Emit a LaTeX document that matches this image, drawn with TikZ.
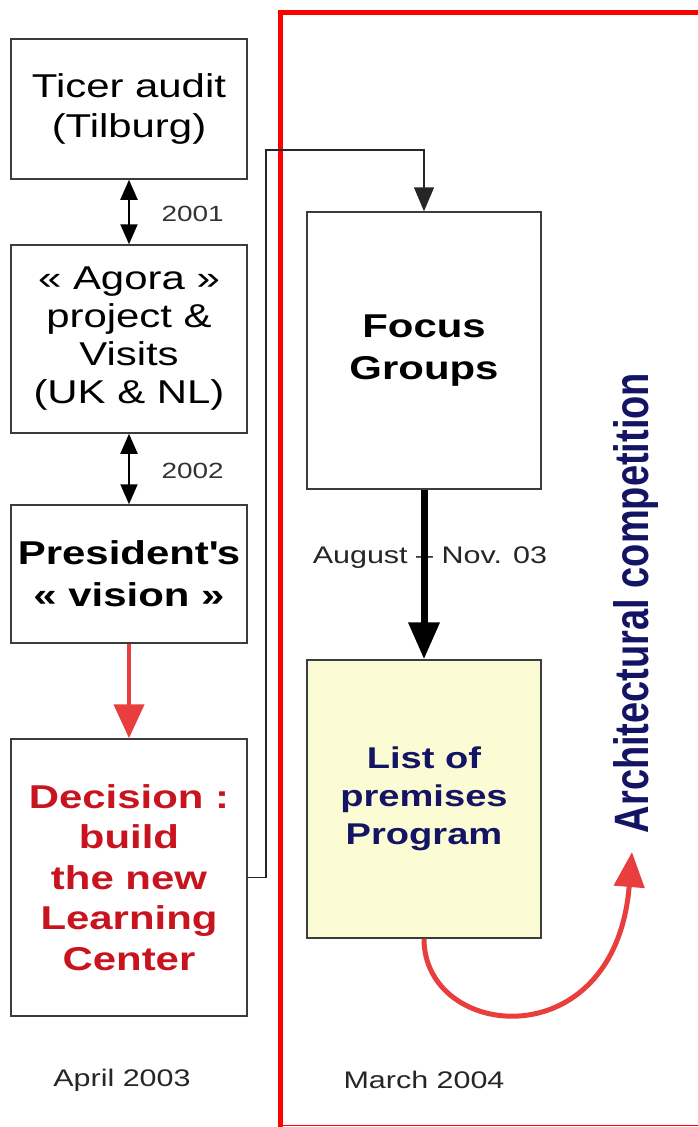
\documentclass[tikz,border=0pt]{standalone}
\usepackage{fontspec}
\setmainfont{Liberation Sans}[FakeStretch=1.27]
\newfontfamily\upfont{Liberation Sans}
\usetikzlibrary{arrows.meta}

\definecolor{navy}{RGB}{20,20,100}
\definecolor{decred}{RGB}{200,20,30}
\definecolor{arrred}{RGB}{232,62,62}
\definecolor{premyellow}{RGB}{252,252,212}
\definecolor{boxgray}{RGB}{60,60,60}

\tikzset{
	stage/.style={draw=boxgray, line width=1.5pt, minimum width=236pt, inner sep=0pt,
		align=center, font=\fontsize{33}{40}\selectfont},
	datelabel/.style={font=\fontsize{24}{28}\selectfont, text=black!85},
	yearlabel/.style={font=\fontsize{22}{26}\selectfont, text=black!80, anchor=west},
	yeararrow/.style={line width=2pt, {Triangle[width=17pt,length=20pt]}-{Triangle[width=17pt,length=20pt]}},
}

\begin{document}
\begin{tikzpicture}[x=1pt,y=-1pt]
	\useasboundingbox (0,0) rectangle (698,1127);

	% red frame
	\draw[red, line width=5pt] (705,12) -- (280,12) -- (280,1132);
	\draw[red, line width=1.5pt] (280,1125.5) -- (705,1125.5);

	% left column
	\node[stage, minimum height=140pt] (ticer) at (129,109) {Ticer audit\\(Tilburg)};
	\node[stage, minimum height=188pt, font=\fontsize{33}{38}\selectfont] (agora) at (129,339)
		{« Agora »\\project \&\\Visits\\(UK \& NL)};
	\node[stage, minimum height=138pt, font=\bfseries\fontsize{33}{42}\selectfont] (vision) at (129,574)
		{President\textquotesingle s\\« vision »};
	\node[stage, minimum height=277pt, text=decred, font=\bfseries\fontsize{33}{40.5}\selectfont] (decision) at (129,877.5)
		{Decision :\\build\\the new\\Learning\\Center};

	% right column
	\node[stage, minimum width=234pt, minimum height=277pt, font=\bfseries\fontsize{33}{42}\selectfont] (focus) at (424,350.5)
		{Focus\\Groups};
	\node[stage, minimum width=234pt, minimum height=278pt, fill=premyellow, text=navy,
		font=\bfseries\fontsize{30}{38}\selectfont] (premises) at (424,799)
		{List of\\premises\\Program};
	\node[rotate=90, yscale=1.27, text=navy, font=\upfont\bfseries\fontsize{38}{40}\selectfont] (competition) at (636,603)
		{Architectural competition};

	\draw[yeararrow] (ticer) -- (agora);
	\node[yearlabel] (y2001) at (158,214) {2001};
	\draw[yeararrow] (agora) -- (vision);
	\node[yearlabel] (y2002) at (158,471) {2002};

	\draw[arrred, line width=4.5pt, -{Triangle[width=30pt,length=34pt]}] (vision) -- (decision);

	\coordinate (bend) at (266,150);
	\draw[black!85, line width=1.5pt, -{Triangle[width=20pt,length=24pt]}] (decision.east) -| (bend) -| (focus.north);

	\node[datelabel] (period) at (430,558) {August – Nov. 03};
	\draw[line width=7pt, -{Triangle[width=30pt,length=37pt]}] (focus) -- (premises);

	\coordinate (tip) at (632,852);
	\draw[arrred, line width=5pt, -{Triangle[width=30pt,length=35pt]}]
		(premises.south) .. controls +(0,102) and (615,1060) .. (tip);

	\node[datelabel] (april) at (122,1080) {April 2003};
	\node[datelabel] (march) at (424,1080) {March 2004};

\end{tikzpicture}
\end{document}
